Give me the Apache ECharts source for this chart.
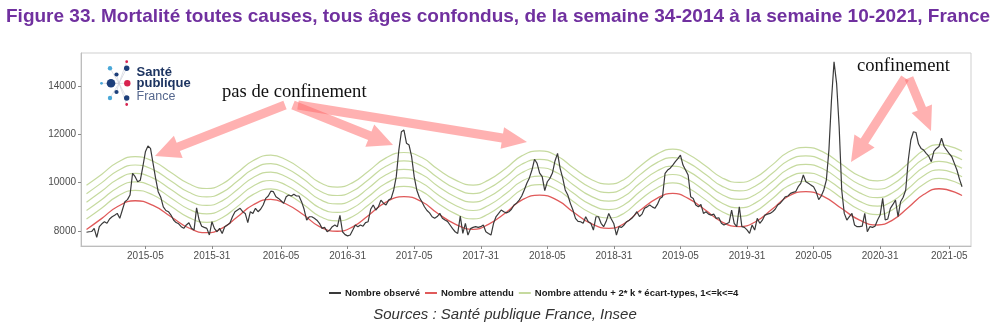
<!DOCTYPE html>
<html><head><meta charset="utf-8">
<script src="https://cdn.jsdelivr.net/npm/echarts@6/dist/echarts.min.js"></script>
<style>html,body{margin:0;padding:0;background:#fff}#c{width:1000px;height:329px}</style>
</head><body><div id="c"></div>
<script>
// ---- data ----
const years = [2014, 2015, 2016, 2017, 2018, 2019, 2020, 2021];
const firstWeek = [34, 1, 1, 1, 1, 1, 1, 1];
const lastWeek = [52, 53, 52, 52, 52, 52, 53, 10];
const tickLabels = ['2015-05','2015-31','2016-05','2016-31','2017-05','2017-31','2018-05','2018-31','2019-05','2019-31','2020-05','2020-31','2021-05'];
const yTicks = [8000, 10000, 12000, 14000];

const observed = [
7950,7970,7980,8110,7740,8180,8300,8385,8320,8500,
8590,8650,8730,8525,8870,9215,9300,9490,10390,10250,
10040,10100,10660,11280,11520,11420,10800,10180,9630,9400,
9000,8850,8800,8660,8455,8350,8300,8180,8110,8250,
8345,8110,8040,8960,8455,8200,8150,8110,7835,8385,
8100,7970,8110,7900,8180,8250,8320,8590,8800,8870,
8940,8800,8730,8350,8800,8730,8940,8800,8900,9075,
9350,9450,9650,9630,9420,9350,9255,9145,9420,9490,
9450,9520,9450,9450,9215,8900,8455,8590,8590,8525,
8450,8320,8110,8150,7970,8040,8180,8250,8180,8650,
7970,7850,7800,7835,8040,8250,8180,8250,8200,8350,
8385,8900,9075,8870,9000,9280,9150,9075,9280,9350,
9700,10250,11350,12110,12180,11630,11560,11075,10250,9700,
9400,9215,9005,8850,8750,8590,8525,8600,8730,8525,
8455,8400,8250,8100,7970,7900,8620,7900,8320,7835,
8100,8150,8180,8150,8180,8250,7970,7900,7835,8320,
8600,8730,8870,8800,8750,8800,8900,9075,9150,9280,
9450,9700,9975,10200,10525,10970,10800,10400,10250,9670,
10040,10180,10400,10900,11215,10595,10200,9700,9490,9145,
8870,8525,8400,8385,8320,8590,8385,8320,8040,8590,
8590,8320,8180,8400,8730,8500,8300,7835,8180,8150,
8250,8385,8450,8525,8650,8800,8600,8700,8940,9000,
9075,9000,8940,9100,9350,9420,10390,10525,10600,10730,
10870,11000,11145,10730,10525,10320,9420,9350,9075,9005,
9100,8730,8800,8700,8660,8700,8525,8550,8320,8250,
8300,8350,8870,8320,8180,9005,8180,8150,8050,7900,
8250,8040,8525,8320,8450,8660,8700,8730,8800,8900,
9075,9150,9280,9420,9450,9560,9600,9630,9835,9975,
10320,10040,9975,9900,9835,9630,9300,9450,9700,10110,
11350,13425,15010,14115,12320,9700,8730,8455,8600,8730,
8250,8180,8180,8200,8730,7970,8180,8150,8200,8455,
8660,9350,8455,8500,8940,9100,9280,8590,9215,9400,
9700,10940,11770,12110,12080,11600,11420,11350,11215,11100,
10870,11300,11420,11500,11840,11500,11350,11200,11075,10800,
10525,10150,9835
];

// expected curve and thresholds, read at these week positions (index from 2014-34)
const expWeeks = [0,6,12,19,26,33,40,47,53,59,65,72,78,85,91,98,104,110,117,124,131,137,144,151,157,164,170,177,184,190,197,204,210,216,223,229,235,242,248,255,261,268,274,281,288,295,302,309,315,321,327,333,342];
const expected = [8065,8524,9005,9254,9060,8592,8124,7930,8119,8591,9077,9312,9118,8651,8184,7990,8174,8636,9198,9420,9211,8745,8289,8070,8278,8780,9282,9490,9269,8800,8314,8110,8307,8835,9363,9560,9351,8849,8389,8180,8365,8919,9431,9630,9426,8931,8449,8250,8464,8977,9510,9750,9470];
const seuil1 = [8495,8954,9435,9684,9490,9022,8554,8360,8549,9021,9507,9742,9548,9081,8614,8420,8604,9066,9628,9850,9641,9175,8719,8500,8708,9210,9712,9920,9699,9230,8744,8540,8737,9265,9793,9990,9781,9279,8819,8610,8795,9349,9861,10060,9856,9361,8879,8680,8894,9407,9940,10180,9900];
const seuil2 = [8845,9304,9785,10034,9840,9372,8904,8710,8899,9371,9857,10092,9898,9431,8964,8770,8954,9416,9978,10200,9991,9525,9069,8850,9058,9560,10062,10270,10049,9580,9094,8890,9087,9615,10143,10340,10131,9629,9169,8960,9145,9699,10211,10410,10206,9711,9229,9030,9244,9757,10290,10530,10250];
const seuil3 = [9195,9654,10135,10384,10190,9722,9254,9060,9249,9721,10207,10442,10248,9781,9314,9120,9304,9766,10328,10550,10341,9875,9419,9200,9408,9910,10412,10620,10399,9930,9444,9240,9437,9965,10493,10690,10481,9979,9519,9310,9495,10049,10561,10760,10556,10061,9579,9380,9594,10107,10640,10880,10600];
const seuil4 = [9545,10004,10485,10734,10540,10072,9604,9410,9599,10071,10557,10792,10598,10131,9664,9470,9654,10116,10678,10900,10691,10225,9769,9550,9758,10260,10762,10970,10749,10280,9794,9590,9787,10315,10843,11040,10831,10329,9869,9660,9845,10399,10911,11110,10906,10411,9929,9730,9944,10457,10990,11230,10950];
const seuil5 = [9895,10354,10835,11084,10890,10422,9954,9760,9949,10421,10907,11142,10948,10481,10014,9820,10004,10466,11028,11250,11041,10575,10119,9900,10108,10610,11112,11320,11099,10630,10144,9940,10137,10665,11193,11390,11181,10679,10219,10010,10195,10749,11261,11460,11256,10761,10279,10080,10294,10807,11340,11580,11300];

// ---- build ----
const weeks = [];
years.forEach((y, k) => {
  for (let w = firstWeek[k]; w <= lastWeek[k]; w++) weeks.push(y + '-' + String(w).padStart(2, '0'));
});
const tickIdx = tickLabels.map(l => weeks.indexOf(l));

const NAME_OBS = 'Nombre observé';
const NAME_EXP = 'Nombre attendu';
const NAME_THR = 'Nombre attendu + 2* k * écart-types, 1<=k<=4';
const GREEN = '#c6da9f', RED = '#e05a5a', BLACK = '#3a3a3a';

function curve(vals) { return expWeeks.map((w, j) => [w, vals[j]]); }
function lineSeries(name, data, color, width, smooth, z) {
  return { name, type: 'line', data, smooth, showSymbol: false, symbol: 'none', z,
    itemStyle: { color }, lineStyle: { color, width }, emphasis: { disabled: true } };
}

function arrow(x1, y1, x2, y2, w, hl, hw) {
  const dx = x2 - x1, dy = y2 - y1, L = Math.hypot(dx, dy);
  const ux = dx / L, uy = dy / L, nx = -uy, ny = ux;
  const bx = x2 - ux * hl, by = y2 - uy * hl;
  return { type: 'polygon', z: 100, silent: true,
    shape: { points: [
      [x1 + nx * w / 2, y1 + ny * w / 2], [bx + nx * w / 2, by + ny * w / 2], [bx + nx * hw, by + ny * hw],
      [x2, y2], [bx - nx * hw, by - ny * hw], [bx - nx * w / 2, by - ny * w / 2], [x1 - nx * w / 2, y1 - ny * w / 2]] },
    style: { fill: 'rgba(255,105,105,0.52)' } };
}

const dots = [
  [126.7, 61.7, 1.4, '#d8234f'], [126.7, 68.3, 2.7, '#1d3f7a'], [110, 68.3, 2.2, '#4aa8d8'],
  [116.5, 74.5, 2.1, '#1d3f7a'], [111, 83.3, 4.3, '#1d3f7a'], [101.5, 83.3, 1.4, '#4aa8d8'],
  [127.3, 83.3, 3.2, '#d8234f'], [116.5, 92, 2.1, '#1d3f7a'], [110, 98, 2.2, '#4aa8d8'],
  [126.7, 98, 2.7, '#1d3f7a'], [126.7, 104.5, 1.4, '#d8234f']
];
const logo = [];
dots.forEach(d => logo.push({ type: 'line', silent: true, z: 49, shape: { x1: 119, y1: 83.3, x2: d[0], y2: d[1] }, style: { stroke: '#c9ccd6', lineWidth: 0.6 } }));
dots.forEach(d => logo.push({ type: 'circle', silent: true, z: 50, shape: { cx: d[0], cy: d[1], r: d[2] }, style: { fill: d[3] } }));
logo.push({ type: 'text', z: 50, x: 136.5, y: 72.5, style: { text: 'Santé', fill: '#1d3461', font: 'bold 13px "Liberation Sans", Arial, sans-serif', verticalAlign: 'middle' } });
logo.push({ type: 'text', z: 50, x: 136.5, y: 83.5, style: { text: 'publique', fill: '#1d3461', font: 'bold 13px "Liberation Sans", Arial, sans-serif', verticalAlign: 'middle' } });
logo.push({ type: 'text', z: 50, x: 136.5, y: 96.5, style: { text: 'France', fill: '#56688f', font: '12.5px "Liberation Sans", Arial, sans-serif', verticalAlign: 'middle' } });

const chart = echarts.init(document.getElementById('c'), null, { renderer: 'canvas' });
chart.setOption({
  animation: false,
  backgroundColor: '#ffffff',
  grid: { left: 81, right: 29, top: 53, bottom: 83, show: true, borderColor: '#cfcfcf', borderWidth: 1 },
  xAxis: {
    type: 'value', min: -2.15, max: 345.5,
    axisLine: { show: true, onZero: false, lineStyle: { color: '#bdbdbd', width: 1 } },
    axisTick: { show: true, length: 3, customValues: tickIdx, lineStyle: { color: '#8a8a8a' } },
    axisLabel: { customValues: tickIdx, formatter: v => weeks[Math.round(v)], color: '#4d4d4d', fontSize: 10, margin: 5, fontFamily: '"Liberation Sans", Arial, sans-serif' },
    splitLine: { show: false }
  },
  yAxis: {
    type: 'value', min: 7380, max: 15370,
    axisLine: { show: true, onZero: false, lineStyle: { color: '#bdbdbd', width: 1 } },
    axisTick: { show: true, length: 3, customValues: yTicks, lineStyle: { color: '#8a8a8a' } },
    axisLabel: { customValues: yTicks, formatter: v => String(v), color: '#4d4d4d', fontSize: 10, margin: 5, fontFamily: '"Liberation Sans", Arial, sans-serif' },
    splitLine: { show: false }
  },
  legend: {
    data: [NAME_OBS, NAME_EXP, NAME_THR], left: 324, top: 283, icon: 'rect', itemWidth: 12, itemHeight: 2, itemGap: 5,
    selectedMode: false,
    textStyle: { fontSize: 9.5, fontWeight: 'bold', color: '#1a1a1a', fontFamily: '"Liberation Sans", Arial, sans-serif', padding: [0, 0, 0, -1] }
  },
  series: [
    lineSeries(NAME_THR, curve(seuil1), GREEN, 1.2, true, 1),
    lineSeries(NAME_THR, curve(seuil2), GREEN, 1.2, true, 1),
    lineSeries(NAME_THR, curve(seuil3), GREEN, 1.2, true, 1),
    lineSeries(NAME_THR, curve(seuil4), GREEN, 1.2, true, 1),
    lineSeries(NAME_THR, curve(seuil5), GREEN, 1.2, true, 1),
    lineSeries(NAME_EXP, curve(expected), RED, 1.3, true, 2),
    lineSeries(NAME_OBS, observed.map((v, i) => [i, v]), BLACK, 1.2, false, 3)
  ],
  graphic: [
    { type: 'text', x: 6, y: 17, style: { text: 'Figure 33. Mortalité toutes causes, tous âges confondus, de la semaine 34-2014 à la semaine 10-2021, France', fill: '#70309f', font: 'bold 19px "Liberation Sans Narrow", "Arial Narrow", "Liberation Sans", sans-serif', verticalAlign: 'middle' } },
    { type: 'text', x: 505, y: 315, style: { text: 'Sources : Santé publique France, Insee', fill: '#333333', font: 'italic 15px "Liberation Sans", Arial, sans-serif', align: 'center', verticalAlign: 'middle' } },
    { type: 'text', x: 222, y: 92.5, z: 60, style: { text: 'pas de confinement', fill: '#111111', font: '18.6px "Liberation Serif", "DejaVu Serif", serif', verticalAlign: 'middle' } },
    { type: 'text', x: 857, y: 66, z: 60, style: { text: 'confinement', fill: '#111111', font: '18.6px "Liberation Serif", "DejaVu Serif", serif', verticalAlign: 'middle' } },
    arrow(285, 105, 155, 156, 9, 25, 12),
    arrow(293, 105, 393, 145, 9, 25, 12),
    arrow(298, 105, 527, 142, 9, 25, 11),
    arrow(905, 78, 851, 162, 9, 25, 12),
    arrow(909, 78, 931, 131, 9, 24, 11)
  ].concat(logo)
});
</script>
</body></html>
